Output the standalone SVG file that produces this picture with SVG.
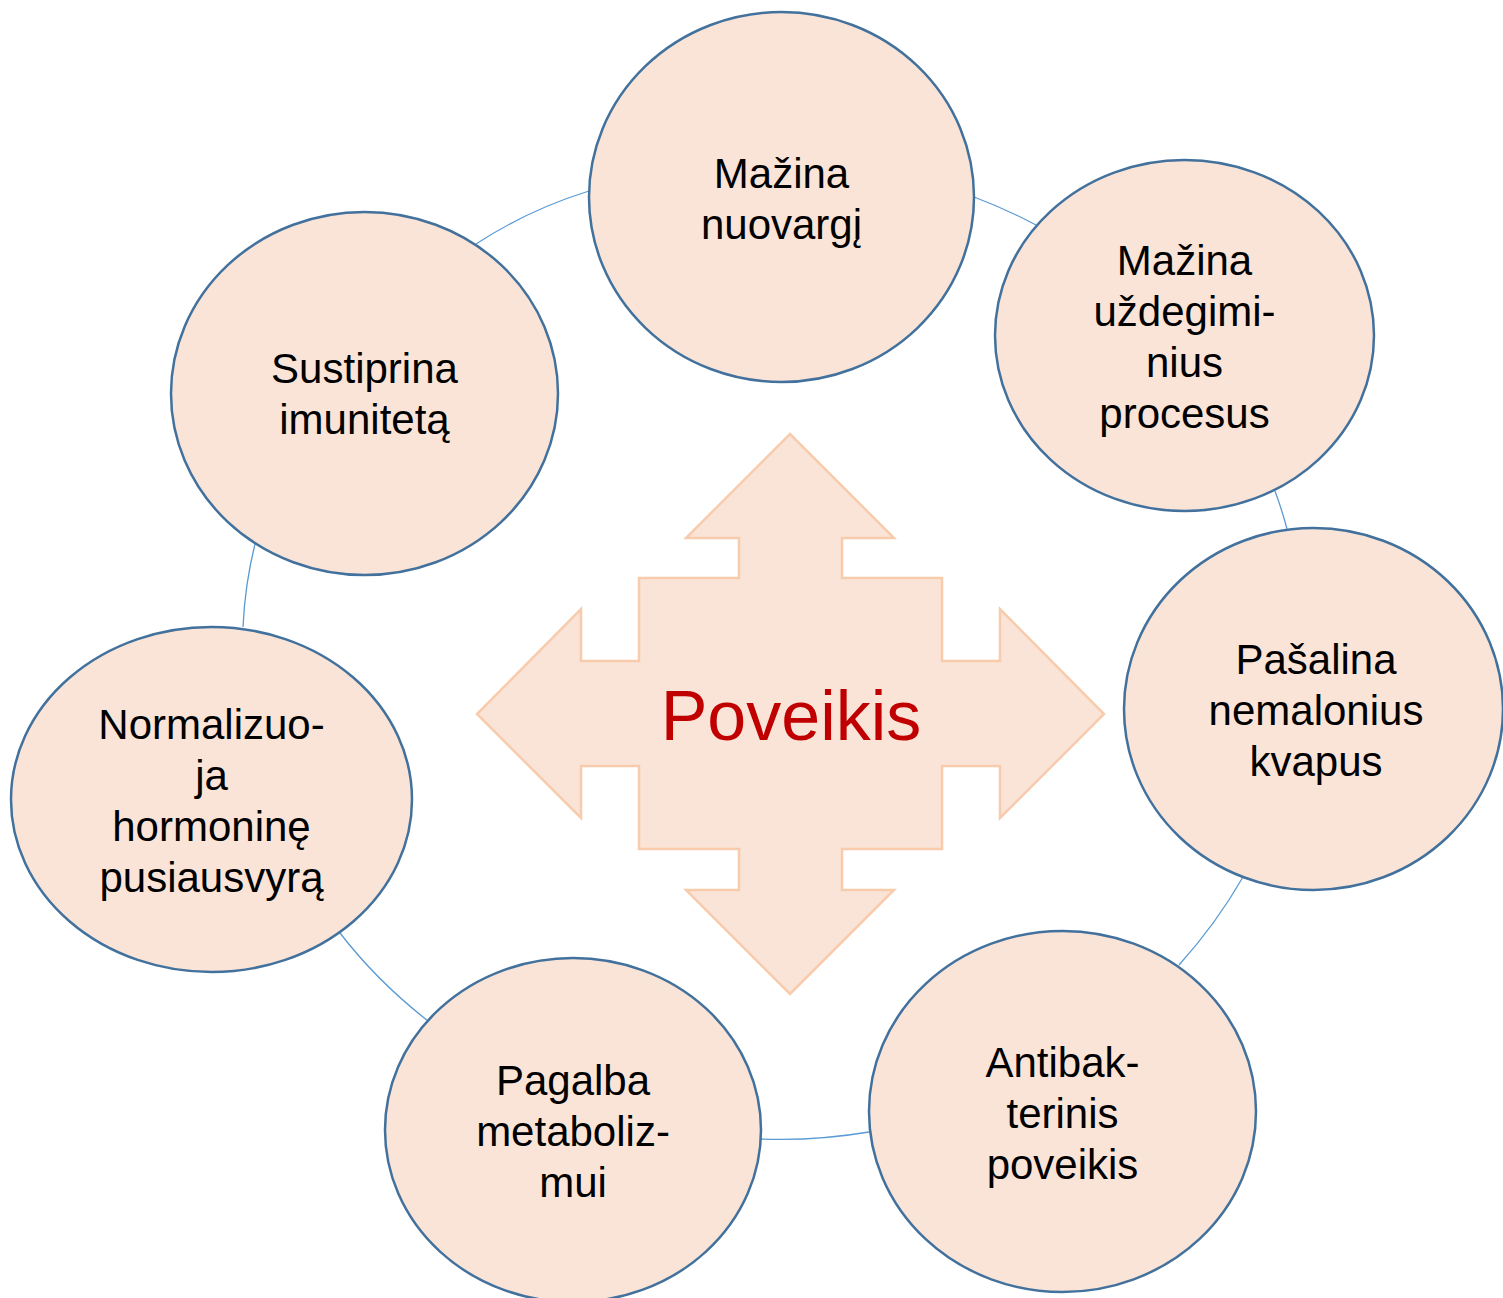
<svg xmlns="http://www.w3.org/2000/svg" width="1503" height="1298" viewBox="0 0 1503 1298">
<style>
.node ellipse{fill:#FAE4D7;stroke:#41719C;stroke-width:2.5}
.node text{font-family:"Liberation Sans",Arial,sans-serif;font-size:42px;fill:#000;text-anchor:middle}
.conn path{fill:none;stroke:#5B9BD5;stroke-width:1.3}
.center{fill:#FAE4D7;stroke:#F8CBAD;stroke-width:2.5}
</style>
<rect width="1503" height="1298" fill="#fff"/>
<g id="connectors" class="conn">
<path d="M476,244 Q528,210 589,191"/>
<path d="M974,197 Q1006,209 1036,225"/>
<path d="M1275,491 Q1282,510 1287,529"/>
<path d="M1243,877 Q1216,924 1179,965"/>
<path d="M869,1132 Q816,1141 761,1139"/>
<path d="M428,1021 Q377,981 340,933"/>
<path d="M243,627 Q245,584 255,544"/>
</g>
<g id="center">
<path class="center" d="M790,434 L894,538 L842,538 L842,578 L942,578 L942,661 L1000,661 L1000,609 L1104,714 L1000,818 L1000,766 L942,766 L942,849 L842,849 L842,890 L894,890 L790,994 L686,890 L739,890 L739,849 L639,849 L639,766 L581,766 L581,818 L477,714 L581,609 L581,661 L639,661 L639,578 L739,578 L739,538 L686,538 Z"/>
<text x="791" y="740" font-family="'Liberation Sans',Arial,sans-serif" font-size="70" fill="#C00000" text-anchor="middle">Poveikis</text>
</g>
<g id="node-top" class="node">
<ellipse cx="781.5" cy="197" rx="192.5" ry="185"/>
<text x="781.5" y="188">Mažina<tspan x="781.5" dy="51">nuovargį</tspan></text>
</g>
<g id="node-topright" class="node">
<ellipse cx="1184.5" cy="335.5" rx="189.5" ry="175.5"/>
<text x="1184.5" y="275">Mažina<tspan x="1184.5" dy="51">uždegimi-</tspan><tspan x="1184.5" dy="51">nius</tspan><tspan x="1184.5" dy="51">procesus</tspan></text>
</g>
<g id="node-right" class="node">
<ellipse cx="1313.5" cy="709" rx="189.5" ry="181"/>
<text x="1316" y="674">Pašalina<tspan x="1316" dy="51">nemalonius</tspan><tspan x="1316" dy="51">kvapus</tspan></text>
</g>
<g id="node-bottomright" class="node">
<ellipse cx="1062.5" cy="1111.5" rx="193.5" ry="180.5"/>
<text x="1062.5" y="1077">Antibak-<tspan x="1062.5" dy="51">terinis</tspan><tspan x="1062.5" dy="51">poveikis</tspan></text>
</g>
<g id="node-bottom" class="node">
<ellipse cx="573" cy="1130" rx="188" ry="172"/>
<text x="573" y="1095">Pagalba<tspan x="573" dy="51">metaboliz-</tspan><tspan x="573" dy="51">mui</tspan></text>
</g>
<g id="node-left" class="node">
<ellipse cx="211.5" cy="799.5" rx="200.5" ry="172.5"/>
<text x="211.5" y="739">Normalizuo-<tspan x="211.5" dy="51">ja</tspan><tspan x="211.5" dy="51">hormoninę</tspan><tspan x="211.5" dy="51">pusiausvyrą</tspan></text>
</g>
<g id="node-topleft" class="node">
<ellipse cx="364.5" cy="393.5" rx="193.5" ry="181.5"/>
<text x="364.5" y="383">Sustiprina<tspan x="364.5" dy="51">imunitetą</tspan></text>
</g>
</svg>
